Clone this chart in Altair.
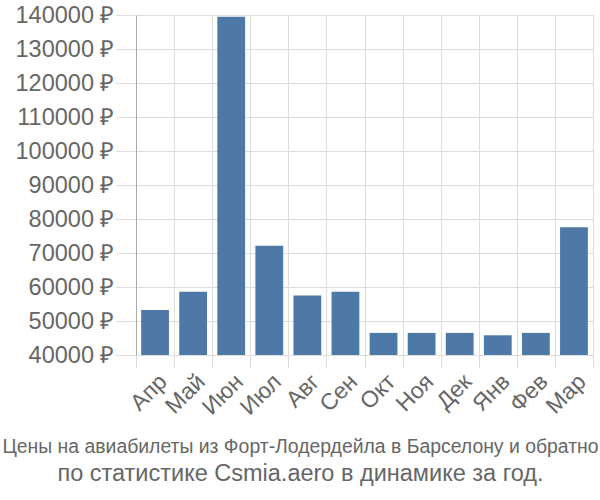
import altair as alt
import pandas as pd

months = ["Апр", "Май", "Июн", "Июл", "Авг", "Сен", "Окт", "Ноя", "Дек", "Янв", "Фев", "Мар"]
prices = [53200, 58600, 139500, 72100, 57500, 58600, 46500, 46500, 46500, 45800, 46500, 77600]
y_ticks = [40000, 50000, 60000, 70000, 80000, 90000, 100000, 110000, 120000, 130000, 140000]
title_lines = ["Цены на авиабилеты из Форт-Лодердейла в Барселону и обратно",
               "по статистике Csmia.aero в динамике за год."]

df = pd.DataFrame({"month": months, "price": prices})

FONT = "Liberation Sans"
TXT = "#666666"
GRID = "#dddddd"

bars = alt.Chart(df).mark_bar(color="#4e79a7", width=alt.RelativeBandSize(0.73), clip=True).encode(
    x=alt.X("month:N", sort=months, title=None,
            scale=alt.Scale(paddingInner=0, paddingOuter=0),
            axis=alt.Axis(bandPosition=0.5, tickBand="extent", labelAngle=-45, tickSize=13,
                          grid=True, gridColor=GRID, tickColor=GRID, domainColor=GRID,
                          labelFontSize=23, labelColor=TXT, labelFont=FONT, labelPadding=2)),
    y=alt.Y("price:Q", title=None,
            scale=alt.Scale(domain=[40000, 140000], zero=False, nice=False),
            axis=alt.Axis(values=y_ticks, labelExpr="format(datum.value, 'd') + ' ₽'",
                          tickSize=20, grid=True, gridColor=GRID, tickColor=GRID,
                          domainColor="#aaaaaa", labelFontSize=23.5, labelColor=TXT,
                          labelFont=FONT, labelPadding=2)),
    y2=alt.datum(40000),
)

chart = bars.properties(
    width=457, height=340,
    autosize=alt.AutoSizeParams(type="none"),
    padding={"left": 136, "top": 15, "right": 7, "bottom": 145},
    title=alt.TitleParams(text=title_lines[0], subtitle=title_lines[1], orient="bottom",
                          anchor="middle", font=FONT, fontSize=19.4,
                          fontWeight="normal", color=TXT, subtitleFont=FONT,
                          subtitleFontSize=23.5, subtitleColor=TXT, offset=19,
                          subtitlePadding=4, dx=-64),
).configure_view(stroke=GRID)

chart.save("out.html", embed_options={"renderer": "svg", "actions": False})
